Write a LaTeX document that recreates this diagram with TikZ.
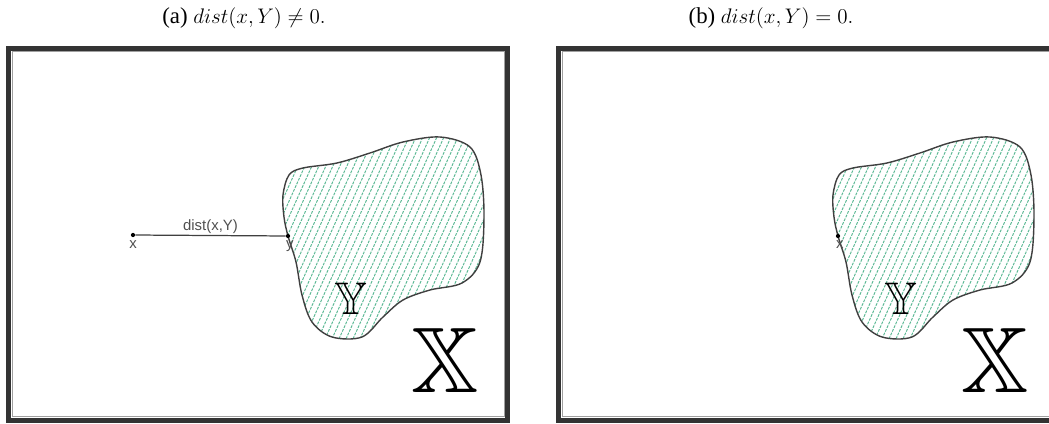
\documentclass[tikz,border=0pt]{standalone}
\usepackage{fontspec}
\setmainfont{Liberation Serif}
\newfontfamily\labelfont{Liberation Sans}
\usepackage{amsmath}
\usepackage{amssymb}
\usepackage{xcolor}
\usepackage{tikz}
\usetikzlibrary{positioning}
\definecolor{dsframe}{HTML}{333333}
\definecolor{dsshade}{HTML}{A0A0A0}
\definecolor{dsline}{HTML}{404040}
\definecolor{dsgreen}{HTML}{5BB894}
\definecolor{dslabel}{HTML}{505050}

\begin{document}
\begin{tikzpicture}[x=0.02cm, y=-0.02cm,
  frame/.style={draw=dsframe, line width=0.1cm},
  frameshade/.style={draw=dsshade, line width=0.5pt},
  blobline/.style={draw=dsline, line width=0.8pt},
  blobshape/.style={insert path={plot[smooth cycle, tension=0.55] coordinates {
    (283,195) (289,175) (303,168) (337,163) (370,153) (403,142) (440,137)
    (470,147) (481,175) (484,217) (480,262) (462,283) (430,290) (403,300)
    (383,317) (362,337) (332,337) (312,322) (302,295) (296,262) (288,236)
    (284,217)}}},
  hatch/.style={draw=dsgreen, line width=0.55pt, dash pattern=on 1.6pt off 0.7pt},
  pt/.style={circle, fill=black, inner sep=0pt, minimum size=2.4pt},
  ptlabel/.style={font=\labelfont\fontsize{8.5}{8.5}\selectfont, text=dslabel, inner sep=0pt},
  caption/.style={font=\rmfamily\fontsize{13}{15}\selectfont, inner sep=0pt},
  bigset/.style={font=\fontsize{53}{53}\selectfont, inner sep=0pt},
  smallset/.style={font=\fontsize{26}{26}\selectfont, inner sep=0pt}]
  \clip (0,0) rectangle (1049,423);

  % captions
  \node[caption] (capa) at (244,18) {(a) $dist(x,Y) \neq 0.$};
  \node[caption] (capb) at (771,18) {(b) $dist(x,Y) = 0.$};

  % both panels: frame, hatched set Y, labels
  \foreach \dx/\nm in {0/a, 550/b} {
    \begin{scope}[shift={(\dx,0)}]
      \draw[frame] (8.5,48) rectangle (507.5,420);
      \draw[frameshade] (12,51.5) rectangle (504,416.5);
      \begin{scope}
        \clip[blobshape];
        \foreach \h in {180,187,...,495}
          \draw[hatch] (\h,350) -- ++(100,-222);
      \end{scope}
      \draw[blobline, blobshape];
      \node[smallset] (sety\nm) at (351,299) {$\mathbb{Y}$};
      \node[bigset] (setx\nm) at (445,360) {$\mathbb{X}$};
    \end{scope}
  }

  % (a) a point outside Y
  \node[pt] (ptx) at (133,235) {};
  \node[pt] (pty) at (288,236) {};
  \draw[dsline, line width=0.7pt] (ptx) -- node[ptlabel, above=1pt] (lbldist) {dist(x,Y)} (pty);
  \node[ptlabel, below=1.5pt of ptx] (lblx) {x};
  \node[ptlabel, below=1pt of pty, xshift=1pt] (lbly) {y};

  % (b) a point on the boundary of Y
  \node[pt] (ptxb) at (838,236) {};
  \node[ptlabel, below=1pt of ptxb, xshift=1pt] (lblxb) {x};
\end{tikzpicture}
\end{document}
